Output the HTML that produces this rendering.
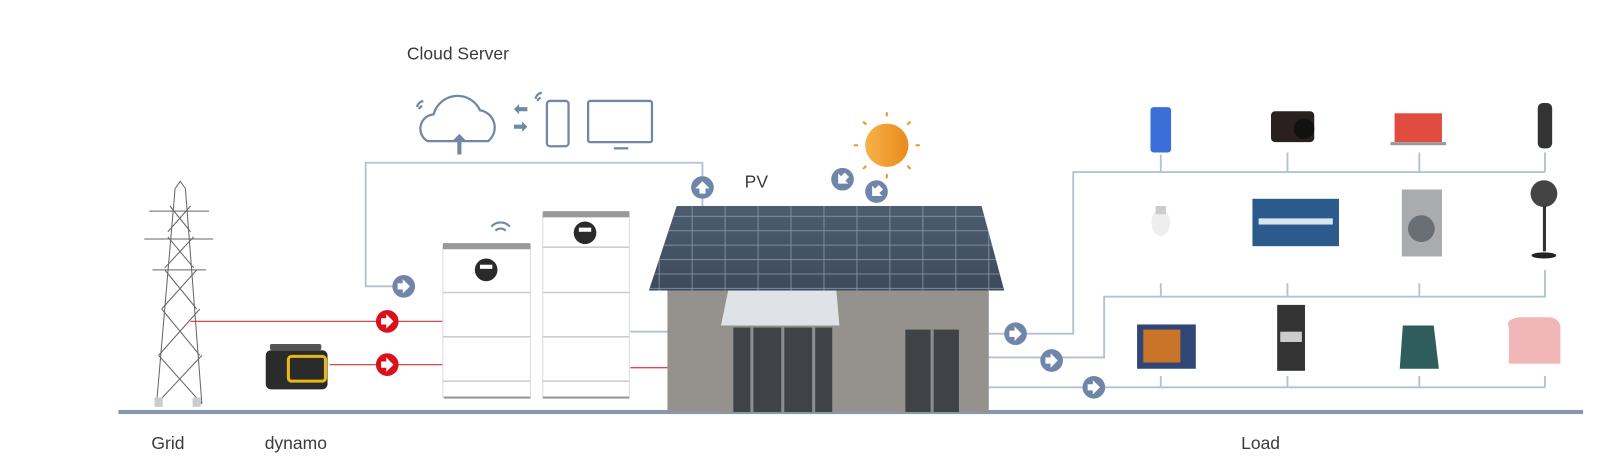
<!DOCTYPE html>
<html><head><meta charset="utf-8"><style>
html,body{margin:0;padding:0;background:#fff;}
svg{display:block;}
text{font-family:"Liberation Sans",sans-serif;fill:#3a3a3a;}
</style></head><body>
<svg width="1615" height="470" viewBox="0 0 1568 456.3" preserveAspectRatio="none" xmlns="http://www.w3.org/2000/svg">
<defs>
<linearGradient id="sun" x1="0" x2="1"><stop offset="0" stop-color="#f7b24a"/><stop offset="1" stop-color="#e98a1c"/></linearGradient>
<linearGradient id="roof" x1="0" y1="0" x2="0" y2="1"><stop offset="0" stop-color="#4d5d70"/><stop offset="1" stop-color="#3d4a5a"/></linearGradient>
<pattern id="grid" width="32" height="14" patternUnits="userSpaceOnUse"><rect width="32" height="14" fill="none" stroke="#8796a8" stroke-width="0.8"/></pattern>
<g id="barrow"><circle r="11" fill="#6f86a8"/><path d="M-6,-3 h5 v-4 l7,7 l-7,7 v-4 h-5z" fill="#fff"/></g>
<g id="rarrow"><circle r="11" fill="#d8111b"/><path d="M-6,-3 h5 v-4 l7,7 l-7,7 v-4 h-5z" fill="#fff"/></g>
</defs>

<text x="395" y="58" font-size="17">Cloud Server</text>
<text x="723" y="182" font-size="17">PV</text>
<text x="147" y="436" font-size="17">Grid</text>
<text x="257" y="436" font-size="17">dynamo</text>
<text x="1205" y="436" font-size="17">Load</text>

<g fill="none" stroke="#7187a6" stroke-width="2.2">
<path d="M415,137 a14,14 0 0 1 6,-26 a24,24 0 0 1 45,-4 a17,17 0 0 1 8,30 z"/>
<rect x="531" y="98" width="21" height="44" rx="3"/>
<rect x="571" y="98" width="62" height="40" rx="2"/>
<path d="M596,144 h14" />
<path d="M405,104 a7,7 0 0 1 6,-6 M407,106 a4,4 0 0 1 3,-3"/>
<path d="M520,96 a7,7 0 0 1 6,-6 M522,98 a4,4 0 0 1 3,-3"/>
</g>
<path d="M446,130 l-6,6 h4 v14 h4 v-14 h4z" fill="#7187a6"/>
<path d="M512,104 h-8 v-3 l-5,5 l5,5 v-3 h8z M499,121 h8 v-3 l5,5 l-5,5 v-3 h-8z" fill="#7187a6"/>

<rect x="115" y="398" width="1422" height="4" fill="#8697ae"/>

<g fill="none" stroke="#b3c2d3" stroke-width="1.8">
<path d="M682,200 V158 H355 V278 H392"/>
<path d="M612,322 H648"/>
<path d="M960,324 H1042 V167 H1500 M1127,150 V167 M1250,148 V167 M1378,148 V167 M1500,148 V167"/>
<path d="M960,347 H1072 V288 H1500 V262 M1127,275 V288 M1250,275 V288 M1378,275 V288"/>
<path d="M960,376 H1500 M1127,365 V376 M1250,365 V376 M1378,365 V376 M1500,365 V376"/>
</g>
<g fill="none" stroke="#e0454d" stroke-width="1.3">
<path d="M185,312 H432"/>
<path d="M320,354 H432"/>
<path d="M612,357 H648"/>
</g>

<g stroke="#666" stroke-width="1" fill="none">
<path d="M170,183 L152,392 M180,183 L196,392 M170,183 L175,176 L180,183"/>
<path d="M145,205 H203 M140,232 H207 M148,262 H200"/>
<path d="M165,200 L185,225 M185,200 L163,225 M163,230 L188,260 M188,230 L160,260 M160,262 L191,300 M191,262 L157,300 M157,300 L194,345 M194,300 L154,345 M154,345 L196,392 M196,345 L152,392"/>
</g>
<rect x="150" y="386" width="8" height="9" fill="#ccc"/><rect x="187" y="386" width="8" height="9" fill="#ccc"/>

<rect x="258" y="340" width="60" height="38" rx="5" fill="#2b2b2b"/>
<rect x="280" y="346" width="36" height="24" rx="3" fill="none" stroke="#e8b814" stroke-width="3"/>
<rect x="262" y="334" width="50" height="6" rx="2" fill="#555"/>

<g>
<rect x="430" y="238" width="85" height="148" fill="#fff" stroke="#ddd"/>
<rect x="430" y="236" width="85" height="6" fill="#999"/>
<path d="M430,284 H515 M430,327 H515 M430,370 H515" stroke="#ccc" stroke-width="1.5"/>
<circle cx="472" cy="262" r="11" fill="#2a2a2a"/><rect x="466" y="257" width="12" height="4" fill="#fff"/>
<rect x="527" y="207" width="84" height="179" fill="#fff" stroke="#ddd"/>
<rect x="527" y="205" width="84" height="6" fill="#999"/>
<path d="M527,240 H611 M527,284 H611 M527,327 H611 M527,370 H611" stroke="#ccc" stroke-width="1.5"/>
<circle cx="568" cy="226" r="11" fill="#2a2a2a"/><rect x="562" y="221" width="12" height="4" fill="#fff"/>
<path d="M431,386 H515 M527,386 H611" stroke="#999" stroke-width="2"/>
<path d="M477,220 a12,12 0 0 1 18,0 M481,224 a7,7 0 0 1 10,0" stroke="#7187a6" stroke-width="2" fill="none"/>
</g>

<rect x="648" y="280" width="312" height="120" fill="#95918c"/>
<polygon points="657,200 953,200 975,282 630,282" fill="url(#roof)"/>
<polygon points="657,200 953,200 975,282 630,282" fill="url(#grid)"/>
<polygon points="707,282 812,282 815,316 700,316" fill="#dfe3e8"/>
<rect x="712" y="318" width="96" height="82" fill="#3f4246"/>
<path d="M730,318 V400 M760,318 V400 M790,318 V400" stroke="#8a8e94" stroke-width="3"/>
<rect x="879" y="320" width="52" height="80" fill="#3f4246"/>
<path d="M905,320 V400" stroke="#8a8e94" stroke-width="3"/>

<circle cx="861" cy="141" r="21" fill="url(#sun)"/>
<g stroke="#e8962c" stroke-width="2">
<path d="M861,113 v-4 M861,169 v4 M833,141 h-4 M889,141 h4 M841,121 l-3,-3 M881,121 l3,-3 M841,161 l-3,3 M881,161 l3,3"/>
</g>

<use href="#rarrow" x="376" y="312"/>
<use href="#rarrow" x="376" y="354"/>
<use href="#barrow" x="392" y="278"/>
<g transform="translate(682,182) rotate(-90)"><use href="#barrow"/></g>
<g transform="translate(818,174) rotate(135)"><use href="#barrow"/></g>
<g transform="translate(851,186) rotate(135)"><use href="#barrow"/></g>
<use href="#barrow" x="986" y="324"/>
<use href="#barrow" x="1021" y="350"/>
<use href="#barrow" x="1062" y="376"/>

<rect x="1117" y="104" width="20" height="44" rx="3" fill="#3a6fd8"/>
<rect x="1234" y="108" width="42" height="30" rx="4" fill="#2a2020"/><circle cx="1266" cy="125" r="10" fill="#111"/>
<rect x="1354" y="110" width="46" height="28" fill="#e24b3f"/><rect x="1350" y="138" width="54" height="3" fill="#999"/>
<rect x="1493" y="100" width="14" height="44" rx="5" fill="#333"/>
<ellipse cx="1127" cy="216" rx="9" ry="13" fill="#eee"/><rect x="1122" y="200" width="10" height="8" fill="#ccc"/>
<rect x="1216" y="193" width="84" height="46" fill="#2a5b8c"/><rect x="1222" y="212" width="72" height="6" fill="#d8e6f0"/>
<rect x="1361" y="184" width="39" height="65" fill="#a9abae"/><circle cx="1380" cy="222" r="13" fill="#6a6f76"/>
<circle cx="1499" cy="188" r="13" fill="#444"/><rect x="1498" y="200" width="3" height="44" fill="#333"/><ellipse cx="1499" cy="248" rx="12" ry="3" fill="#222"/>
<rect x="1104" y="315" width="57" height="43" fill="#2f4676"/><rect x="1110" y="320" width="36" height="32" fill="#c8752a"/>
<rect x="1240" y="296" width="27" height="64" fill="#333"/><rect x="1243" y="322" width="21" height="10" fill="#ccc"/>
<path d="M1362,316 h30 l5,42 h-38z" fill="#2f5c5c"/>
<path d="M1465,318 q-4,-8 10,-10 h30 q10,2 10,10 v35 h-50z" fill="#f1b6b8"/>
</svg>
</body></html>
